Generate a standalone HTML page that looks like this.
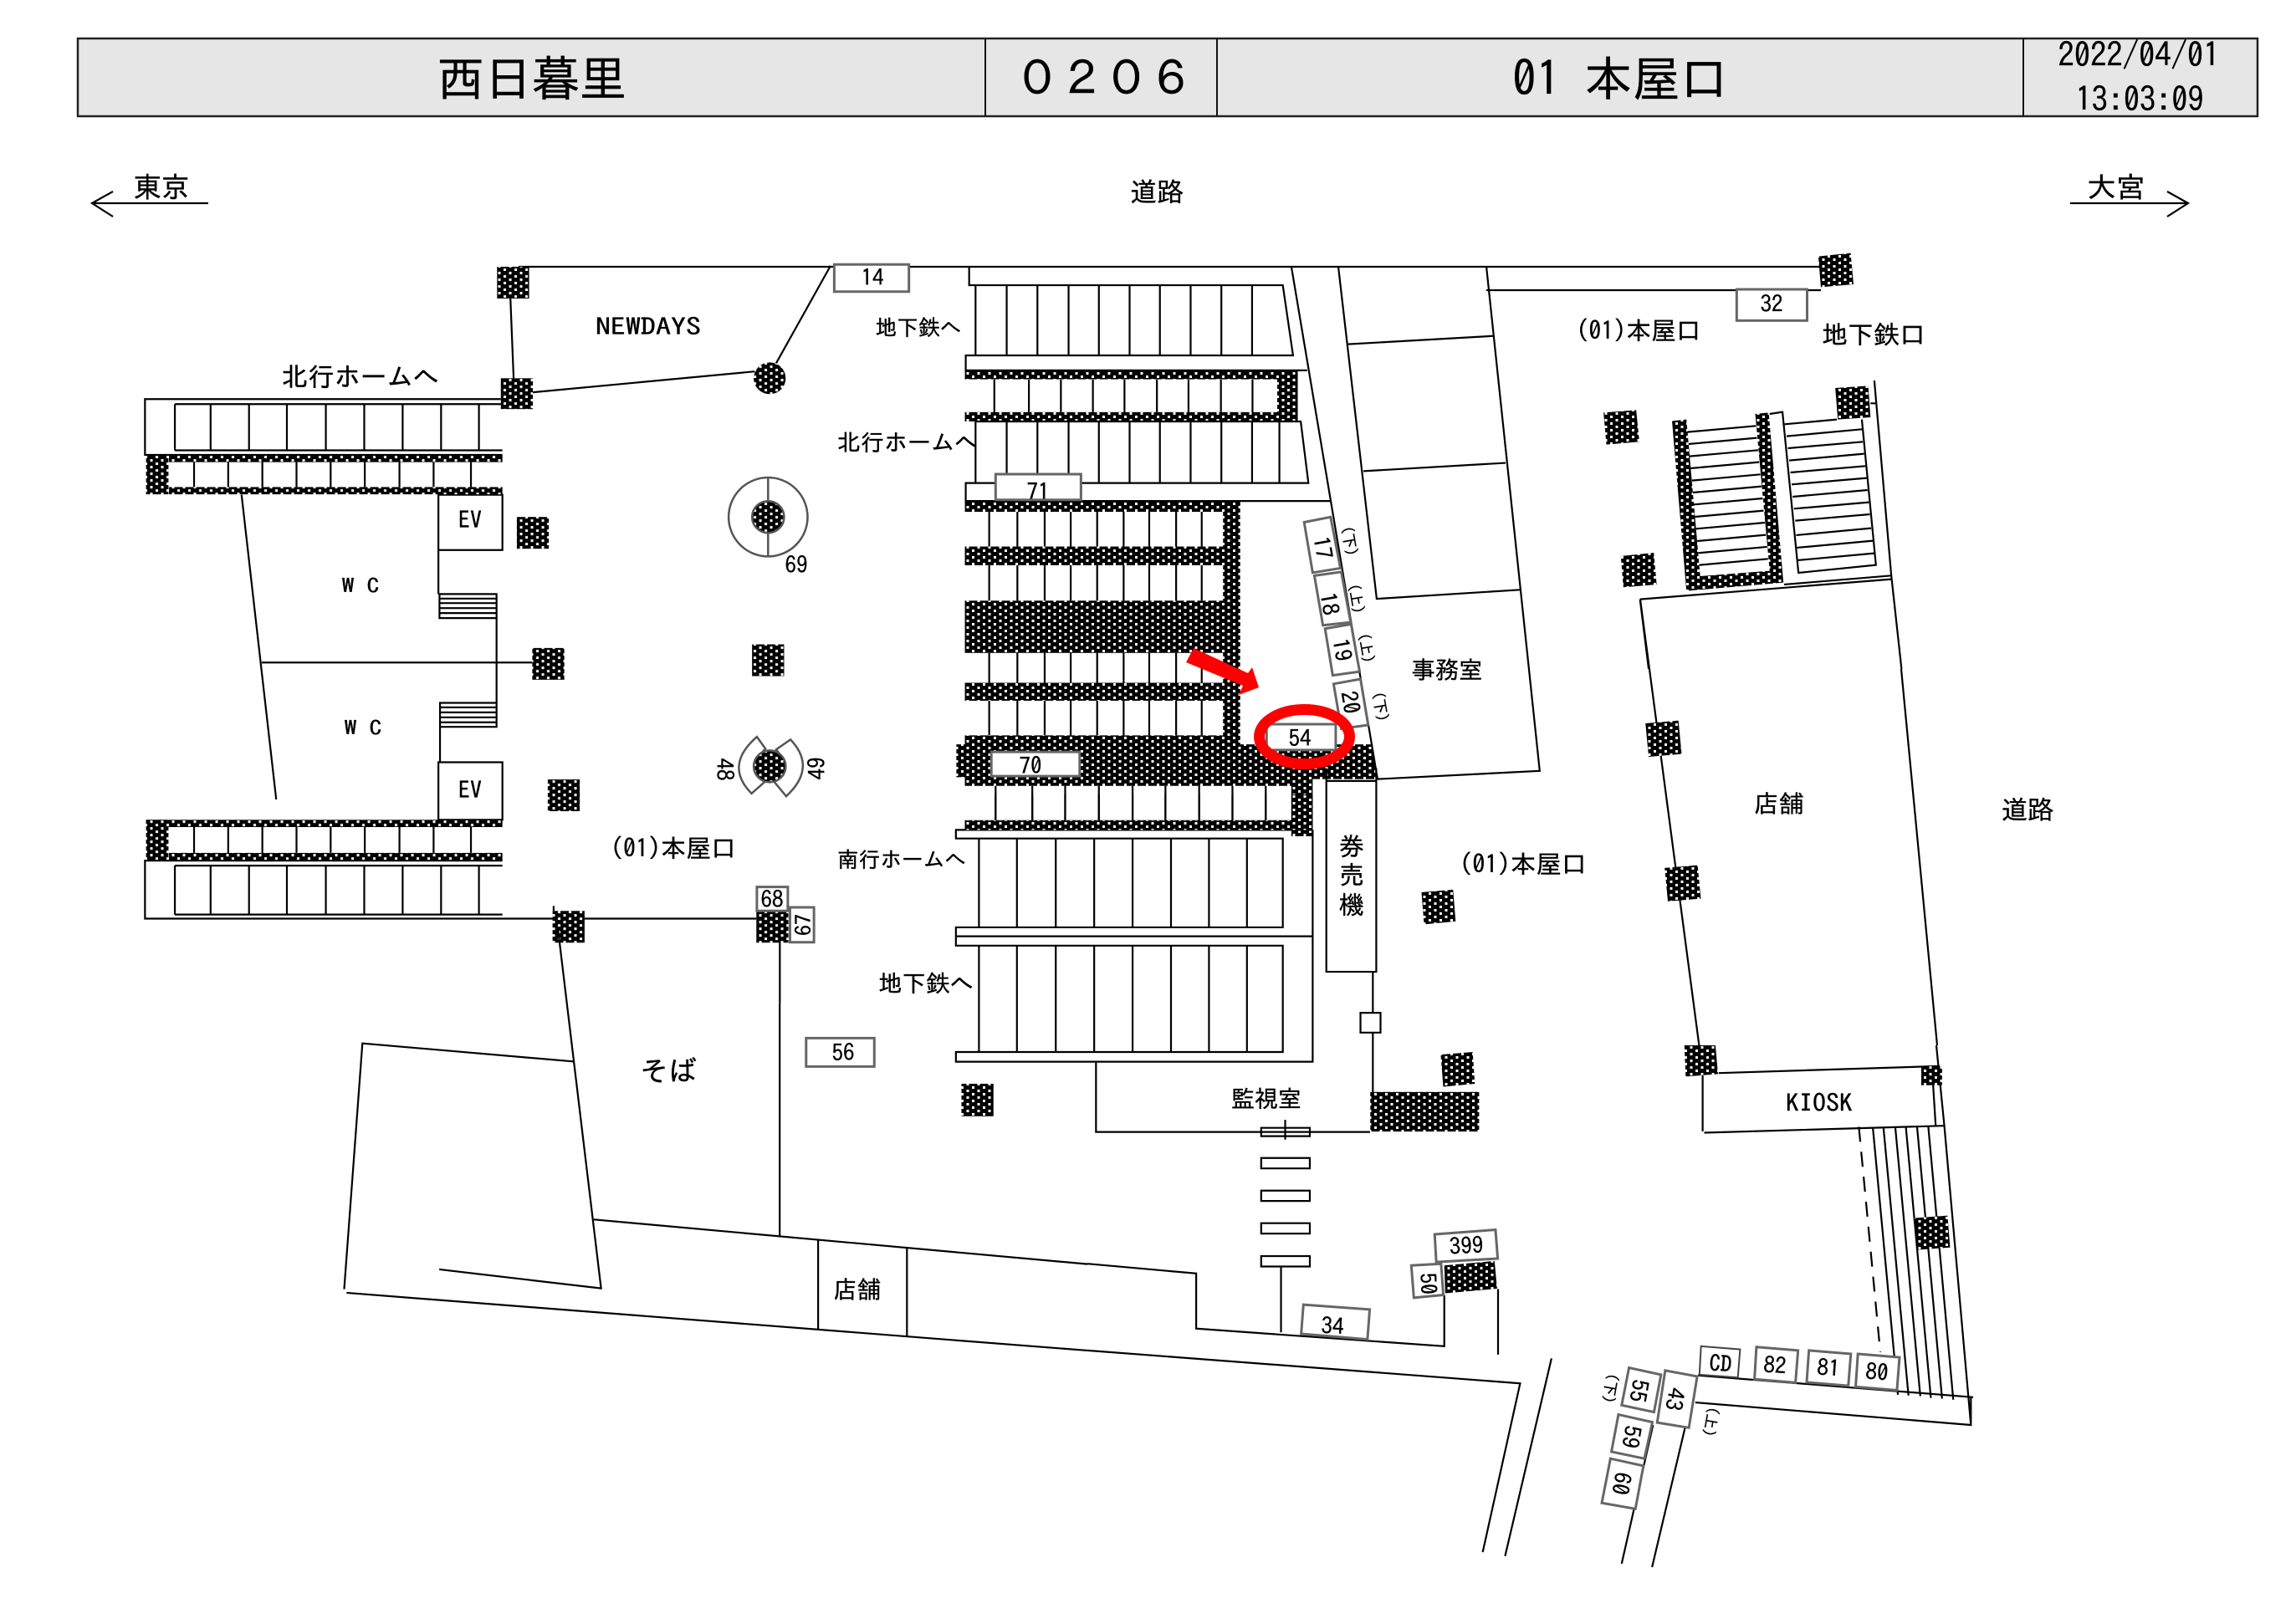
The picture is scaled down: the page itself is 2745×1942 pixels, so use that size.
<!DOCTYPE html>
<html lang="ja"><head><meta charset="utf-8"><title>西日暮里 0206</title>
<style>
html,body{margin:0;padding:0;background:#fff}
svg{display:block}
svg *{vector-effect:non-scaling-stroke}
text{font-family:"IPAGothic","Liberation Sans","Noto Sans CJK JP",sans-serif;fill:#000;stroke:#000;stroke-width:.35;text-anchor:middle;dominant-baseline:central}
.b{fill:#fff;stroke:#666;stroke-width:3}
.n{fill:none;stroke:#000;stroke-width:2.2}
.h{stroke:none}
</style></head><body>
<svg xmlns="http://www.w3.org/2000/svg" width="2745" height="1942" viewBox="0 0 2745 1942">
<defs>
<pattern id="p" patternUnits="userSpaceOnUse" width="13" height="8">
<rect width="13" height="8" fill="#000"/><rect x="1.5" y="1" width="3" height="3" fill="#fff"/><rect x="8" y="5" width="3" height="3" fill="#fff"/>
</pattern>
<pattern id="p1" href="#p" patternTransform="scale(1.568,1.845)"/>
<pattern id="p2" href="#p" patternTransform="scale(1.96,2.24)"/>
<pattern id="p4" href="#p" patternTransform="scale(2.613,3)"/>
<pattern id="p5" href="#p" patternTransform="scale(2.613,2.412)"/>
<pattern id="p7" href="#p" patternTransform="scale(1.742,3)"/>
</defs>
<rect width="2745" height="1942" fill="#fff"/>

<!-- header -->
<rect x="93" y="46" width="2606" height="93" fill="#e6e6e6" stroke="#222" stroke-width="2.5"/>
<g stroke="#111" stroke-width="2"><line x1="1178" y1="46" x2="1178" y2="139"/><line x1="1455" y1="46" x2="1455" y2="139"/><line x1="2419" y1="46" x2="2419" y2="139"/></g>
<text x="636" y="93" font-size="58" textLength="227" lengthAdjust="spacingAndGlyphs">西日暮里</text>
<text x="1320" y="93" font-size="56" textLength="216">０２０６</text>
<text x="1937" y="93" font-size="58" textLength="258" lengthAdjust="spacingAndGlyphs">01 本屋口</text>
<text x="2557" y="65" font-size="40" textLength="193" lengthAdjust="spacingAndGlyphs">2022/04/01</text>
<text x="2558" y="118" font-size="40" textLength="153" lengthAdjust="spacingAndGlyphs">13:03:09</text>

<!-- direction arrows -->
<g class="n"><path d="M249,243H110M135,229L110,243L135,259"/><path d="M2475,243H2616M2591,229L2616,243L2591,259"/></g>
<text x="193" y="224" font-size="34" textLength="67" lengthAdjust="spacingAndGlyphs">東京</text>
<text x="2530" y="224" font-size="34" textLength="70" lengthAdjust="spacingAndGlyphs">大宮</text>
<text x="1383" y="229" font-size="32" textLength="64" lengthAdjust="spacingAndGlyphs">道路</text>

<!-- long top lines and right wall in page coordinates -->
<g class="n">
<path d="M620,319H2177M1777,347H2177"/>
<path d="M2273,800L2316,1250"/>
<path d="M1961,717L2036,1285"/>
</g>

<!-- GROUP Z1 -->
<g transform="translate(100,300) scale(0.6378,0.5421)">
<g class="n">
<path d="M800,105L806,281M842,312L1258,266M1298,248L1400,33"/>
<path d="M782,327H115V450H785M171,440H785M171,338H782M171,338V440"/>
<path d="M238,338V440M310,338V440M381,338V440M454,338V440M526,338V440M598,338V440M670,338V440M741,338V440"/>
<path d="M207,466V521M271,466V521M335,466V521M399,466V521M463,466V521M527,466V521M592,466V521M656,466V521M726,466V521"/>
<path d="M207,1271V1328M271,1271V1328M335,1271V1328M399,1271V1328M463,1271V1328M527,1271V1328M592,1271V1328M656,1271V1328M726,1271V1328"/>
<path d="M785,1345H115V1473H1261M171,1356H785M171,1464H785M171,1356V1464"/>
<path d="M238,1356V1464M310,1356V1464M381,1356V1464M454,1356V1464M526,1356V1464M598,1356V1464M670,1356V1464M741,1356V1464"/>
<rect x="665" y="538" width="120" height="122"/><rect x="665" y="1128" width="120" height="127"/>
<path d="M665,660V757M774,810V997M668,1050V1128M296,538L361,1210M334,908H841"/>
<path d="M667,757H774V810H667ZM667,767H774M667,777H774M667,788H774M667,799H774"/>
<path d="M668,997H774V1050H668ZM668,1007H774M668,1018H774M668,1029H774M668,1040H774"/>
<path d="M881,1445V1456M1305,1525V1660"/>
</g>
<g class="h" fill="url(#p1)">
<rect x="775" y="35" width="60" height="70"/><rect x="782" y="281" width="60" height="68"/>
<rect x="812" y="587" width="60" height="70"/><rect x="841" y="876" width="60" height="70"/>
<rect x="1253" y="868" width="60" height="70"/><rect x="870" y="1166" width="60" height="70"/>
<rect x="879" y="1456" width="60" height="70"/><rect x="1261" y="1456" width="60" height="70"/>
<ellipse cx="1286" cy="281" rx="30" ry="35"/>
<rect x="160" y="452" width="625" height="14"/><rect x="117" y="452" width="42" height="85"/><rect x="160" y="521" width="625" height="16"/>
<rect x="117" y="1255" width="668" height="16"/><rect x="117" y="1255" width="42" height="90"/><rect x="160" y="1328" width="625" height="16"/>
</g>
<g fill="none" stroke="#555" stroke-width="2.5">
<ellipse cx="1283" cy="587" rx="74" ry="87"/><path d="M1283,500V675"/>
<path d="M1262,1072Q1200,1135 1252,1197L1276,1172Q1248,1135 1278,1098Z"/>
<path d="M1325,1078Q1375,1140 1317,1203L1295,1172Q1325,1135 1298,1100Z"/>
</g>
<ellipse cx="1283" cy="587" rx="30" ry="35" fill="url(#p1)" stroke="#555" stroke-width="2.5"/>
<ellipse cx="1286" cy="1137" rx="30" ry="35" fill="url(#p1)" stroke="#555" stroke-width="2.5"/>
<rect class="b" x="1407" y="30" width="140" height="60"/>
<rect class="b" x="1262" y="1403" width="58" height="53"/>
<rect class="b" x="1324" y="1448" width="45" height="77"/>
</g>

<!-- GROUP Z2 -->
<g transform="translate(1050,300) scale(0.5102,0.4464)">
<g class="h" fill="url(#p2)">
<rect x="203" y="322" width="780" height="22"/><rect x="935" y="322" width="48" height="135"/><rect x="203" y="432" width="780" height="25"/>
<rect x="203" y="672" width="645" height="27"/><rect x="808" y="672" width="40" height="650"/>
<rect x="203" y="792" width="645" height="50"/>
<rect x="203" y="937" width="645" height="140"/>
<rect x="203" y="1157" width="645" height="48"/>
<path d="M203,1298H848V1322H1158L1170,1415H1018V1568H968V1433H203V1410H183V1322H203Z"/>
<rect x="203" y="1525" width="815" height="25"/>
</g>
<g class="n">
<path d="M213,42V92H948L972,280H205V320H1005"/>
<path d="M228,92V280M301,92V280M373,92V280M446,92V280M517,92V280M589,92V280M660,92V280M732,92V280M804,92V280M876,92V280"/>
<path d="M272,345V432M353,345V432M428,345V432M503,345V432M577,345V432M653,345V432M727,345V432M803,345V432M877,345V432"/>
<path d="M228,457H990L1008,622H205V670H1060"/>
<path d="M228,457V622M301,457V622M373,457V622M446,457V622M517,457V622M589,457V622M660,457V622M732,457V622M804,457V622M876,457V622M940,457V622"/>
<path d="M968,42L1170,1415L1550,1393L1425,42M1078,42L1168,932L1503,908M1100,250L1440,228M1137,590L1470,568"/>
<path d="M260,699V792M326,699V792M390,699V792M451,699V792M513,699V792M575,699V792M635,699V792M698,699V792M758,699V792"/>
<path d="M260,842V937M326,842V937M390,842V937M451,842V937M513,842V937M575,842V937M635,842V937M698,842V937M758,842V937"/>
<path d="M260,1077V1157M326,1077V1157M390,1077V1157M451,1077V1157M513,1077V1157M575,1077V1157M635,1077V1157M698,1077V1157M758,1077V1157"/>
<path d="M260,1205V1298M326,1205V1298M390,1205V1298M451,1205V1298M513,1205V1298M575,1205V1298M635,1205V1298M698,1205V1298M758,1205V1298"/>
<path d="M275,1433V1525M361,1433V1525M438,1433V1525M517,1433V1525M596,1433V1525M673,1433V1525M752,1433V1525M830,1433V1525M908,1433V1525"/>
<path d="M1050,1420H1167"/>
</g>
<g class="b">
<rect x="275" y="598" width="200" height="69"/>
<rect x="265" y="1342" width="207" height="65"/>
<rect x="910" y="1268" width="162" height="69"/>
<polygon points="998,727 1060,713 1083,850 1018,862"/>
<polygon points="1022,870 1085,860 1107,995 1042,1003"/>
<polygon points="1047,1012 1108,1000 1128,1127 1065,1137"/>
<polygon points="1067,1160 1130,1147 1148,1270 1085,1280"/>
</g>
</g>

<!-- GROUP Z3 -->
<g transform="translate(1050,950) scale(0.5102,0.4464)">
<g class="n">
<path d="M1018,95H182V118H948V356H182V380H1018M182,380V405H948V690H182V716H1018V95"/>
<path d="M236,118V356M325,118V356M416,118V356M506,118V356M596,118V356M686,118V356M775,118V356M864,118V356"/>
<path d="M236,405V690M325,405V690M416,405V690M506,405V690M596,405V690M686,405V690M775,405V690M864,405V690"/>
<path d="M275,0V70M361,0V70M438,0V70M517,0V70M596,0V70M673,0V70M752,0V70M830,0V70M908,0V70"/>
<path d="M1050,-70V475H1167V-70M1159,475V585M1159,638V797"/>
<rect x="1130" y="585" width="47" height="53"/>
</g>
<g class="h" fill="url(#p2)">
<rect x="203" y="70" width="815" height="25"/><rect x="968" y="0" width="50" height="75"/>
<rect x="1153" y="797" width="255" height="106"/>
<rect x="195" y="775" width="75" height="87"/>
<polygon points="1273,262 1347,255 1353,340 1279,348"/>
<polygon points="1318,697 1393,690 1398,775 1324,783"/>
</g>
</g>

<!-- GROUP Z4 -->
<g transform="translate(1800,300) scale(0.3827,0.3333)">
<g class="n">
<path d="M568,650L782,628M571,693L785,671M575,737L789,715M578,780L792,758M582,824L796,802M585,867L800,845M588,910L803,888M592,954L806,932M595,997L810,975M599,1041L813,1019M602,1084L817,1062M605,1127L820,1105"/>
<path d="M825,585L865,578L915,1155L1157,1127L1113,605M872,622L1035,605"/>
<path d="M878,665L1113,640M882,708L1116,685M886,752L1120,728M890,795L1124,772M894,838L1128,815M897,882L1131,858M901,925L1135,902M905,968L1138,945M908,1020L1142,995M910,1065L1148,1040M912,1110L1152,1085"/>
<path d="M1152,465L1205,1165L1237,1500M1140,547H1155M870,1197L1205,1165M420,1250L1205,1178M420,1250L447,1500"/>
</g>
<g class="h" fill="url(#p4)">
<polygon points="977,20 1078,8 1087,120 985,130"/>
<polygon points="1030,492 1133,484 1140,597 1038,605"/>
<polygon points="306,580 408,571 418,685 315,695"/>
<polygon points="360,1095 463,1083 472,1197 368,1207"/>
<polygon points="520,610 565,605 608,1167 825,1148 780,585 822,580 868,1190 565,1220"/>
<polygon points="437,1695 540,1685 550,1805 447,1815"/>
<polygon points="497,2214 600,2204 610,2324 507,2334"/>
</g>
<rect class="b" x="722" y="138" width="220" height="112"/>
</g>

<!-- GROUP Z5 right lower -->
<g transform="translate(1850,1250) scale(0.3827,0.4146)">
<g class="n">
<path d="M1215,0L1240,232L1323,1095L462,1030M1323,1095V1015M470,952L1330,1015"/>
<path d="M535,80L1225,60M485,85V248M490,252L1240,232M1205,115L1213,232"/>
<path d="M1017,240L1095,1008M1050,238L1128,1010M1087,238L1165,1012M1120,237L1198,1017M1155,236L1233,1019M1190,235L1268,1022"/>
<path d="M973,235L1040,885" stroke-dasharray="18 12"/>
<path d="M430,1103L327,1505M330,1095L232,1495"/>
</g>
<g class="h" fill="url(#p5)">
<rect x="1168" y="60" width="65" height="55"/>
<polygon points="428,0 525,0 533,83 432,90"/>
<polygon points="1148,498 1250,491 1258,583 1155,590"/>
</g>
<g class="b">
<polygon points="480,868 602,877 595,958 475,950" style="stroke-width:2;stroke:#444"/>
<polygon points="653,870 783,880 775,973 647,963"/>
<polygon points="817,880 948,890 940,982 810,972"/>
<polygon points="970,890 1100,900 1092,995 963,985"/>
<polygon points="255,930 355,950 333,1058 232,1038"/>
<polygon points="368,938 468,955 442,1103 343,1088"/>
<polygon points="222,1065 328,1087 303,1192 200,1172"/>
<polygon points="197,1192 300,1213 275,1337 170,1320"/>
</g>
</g>

<!-- GROUP Z7 -->
<g transform="translate(400,1200) scale(0.5741,0.3333)">
<g class="n">
<path d="M497,208L58,143L20,1025M218,954L555,1022L465,-270M25,1038L1568,1245M540,775L1568,935"/>
<path d="M927,0V835M1007,848V1168M1192,875V1193"/>
</g>
<rect class="b" x="982" y="124" width="142" height="102"/>
</g>

<!-- GROUP Z8 -->
<g transform="translate(1300,1250) scale(0.3827,0.4146)">
<g class="n">
<path d="M0,880L1352,975L1235,1462M1450,903L1305,1473M1283,703V892"/>
<path d="M0,630L340,658V817L1115,868V720M605,638V828"/>
<path d="M27,50V250H883M618,215V272"/>
<rect x="543" y="238" width="152" height="24"/><rect x="543" y="325" width="152" height="30"/>
<rect x="543" y="419" width="152" height="30"/><rect x="543" y="513" width="152" height="30"/>
<rect x="543" y="608" width="152" height="30"/>
</g>
<polygon points="1115,635 1272,622 1280,702 1118,715" fill="url(#p5)" stroke="none"/>
<g class="b">
<polygon points="1085,545 1275,532 1282,615 1090,625"/>
<polygon points="1012,635 1105,630 1112,720 1020,728"/>
<polygon points="675,748 882,762 875,848 668,832"/>
</g>
</g>

<!-- labels -->
<text x="775" y="391" font-size="28" textLength="126" lengthAdjust="spacingAndGlyphs">NEWDAYS</text>
<text x="431" y="450" font-size="32" textLength="188" lengthAdjust="spacingAndGlyphs">北行ホームへ</text>
<text x="1098" y="392" font-size="26" textLength="103" lengthAdjust="spacingAndGlyphs">地下鉄へ</text>
<text x="1085" y="529" font-size="28" textLength="168" lengthAdjust="spacingAndGlyphs">北行ホームへ</text>
<text x="1078" y="1028" font-size="26" textLength="154" lengthAdjust="spacingAndGlyphs">南行ホームへ</text>
<text x="1107" y="1176" font-size="28" textLength="114" lengthAdjust="spacingAndGlyphs">地下鉄へ</text>
<text x="952" y="676" font-size="27">69</text>
<text x="431" y="700" font-size="24" textLength="45" lengthAdjust="spacingAndGlyphs">W C</text>
<text x="434" y="870" font-size="24" textLength="45" lengthAdjust="spacingAndGlyphs">W C</text>
<text x="562" y="622" font-size="28">EV</text>
<text x="562" y="945" font-size="28">EV</text>
<text x="805" y="1014" font-size="30" textLength="150" lengthAdjust="spacingAndGlyphs">(01)本屋口</text>
<text x="1821" y="1033" font-size="30" textLength="152" lengthAdjust="spacingAndGlyphs">(01)本屋口</text>
<text x="1959" y="395" font-size="30" textLength="149" lengthAdjust="spacingAndGlyphs">(01)本屋口</text>
<text x="2240" y="400" font-size="30" textLength="124" lengthAdjust="spacingAndGlyphs">地下鉄口</text>
<text x="799" y="1281" font-size="34" textLength="68" lengthAdjust="spacingAndGlyphs">そば</text>
<text x="1025" y="1542" font-size="29" textLength="57" lengthAdjust="spacingAndGlyphs">店舗</text>
<text x="1514" y="1314" font-size="28" textLength="84" lengthAdjust="spacingAndGlyphs">監視室</text>
<text x="1616" y="1012" font-size="30">券</text><text x="1616" y="1046" font-size="30">売</text><text x="1616" y="1082" font-size="30">機</text>
<text x="1730" y="801" font-size="29" textLength="85" lengthAdjust="spacingAndGlyphs">事務室</text>
<text x="2127" y="961" font-size="29" textLength="60" lengthAdjust="spacingAndGlyphs">店舗</text>
<text x="2424" y="968" font-size="31" textLength="63" lengthAdjust="spacingAndGlyphs">道路</text>
<text x="2175" y="1319" font-size="29" textLength="80" lengthAdjust="spacingAndGlyphs">KIOSK</text>
<text x="1043" y="332" font-size="27">14</text>
<text x="2118" y="364" font-size="27">32</text>
<text x="1241" y="588" font-size="27">71</text>
<text x="1232" y="916" font-size="27">70</text>
<text x="1554" y="883" font-size="27">54</text>
<text x="1008" y="1259" font-size="27">56</text>
<text x="923" y="1076" font-size="27">68</text>
<text x="961" y="1106" font-size="26" transform="rotate(-90 961 1106)">67</text>
<text x="866" y="920" font-size="27" transform="rotate(90 866 920)">48</text>
<text x="977" y="919" font-size="27" transform="rotate(-90 977 919)">49</text>
<text x="1593" y="1586" font-size="27" transform="rotate(3 1593 1586)">34</text>
<text x="1753" y="1490" font-size="27" transform="rotate(-3 1753 1490)">399</text>
<text x="1707" y="1535" font-size="26" transform="rotate(87 1707 1535)">50</text>
<text x="1581" y="655" font-size="27" transform="rotate(80 1581 655)">17</text>
<text x="1589" y="722" font-size="27" transform="rotate(80 1589 722)">18</text>
<text x="1604" y="777" font-size="27" transform="rotate(80 1604 777)">19</text>
<text x="1614" y="840" font-size="27" transform="rotate(80 1614 840)">20</text>
<text x="1613" y="647" font-size="18" transform="rotate(80 1613 647)">(下)</text>
<text x="1621" y="716" font-size="18" transform="rotate(80 1621 716)">(上)</text>
<text x="1633" y="775" font-size="18" transform="rotate(80 1633 775)">(上)</text>
<text x="1650" y="845" font-size="18" transform="rotate(80 1650 845)">(下)</text>
<text x="2057" y="1631" font-size="27" transform="rotate(4 2057 1631)">CD</text>
<text x="2122" y="1633" font-size="27" transform="rotate(4 2122 1633)">82</text>
<text x="2186" y="1636" font-size="27" transform="rotate(4 2186 1636)">81</text>
<text x="2244" y="1641" font-size="27" transform="rotate(4 2244 1641)">80</text>
<text x="1959" y="1663" font-size="27" transform="rotate(100 1959 1663)">55</text>
<text x="2002" y="1673" font-size="27" transform="rotate(100 2002 1673)">43</text>
<text x="1950" y="1718" font-size="27" transform="rotate(100 1950 1718)">59</text>
<text x="1938" y="1774" font-size="27" transform="rotate(100 1938 1774)">60</text>
<text x="1925" y="1660" font-size="18" transform="rotate(100 1925 1660)">(下)</text>
<text x="2045" y="1700" font-size="18" transform="rotate(100 2045 1700)">(上)</text>

<!-- red highlight -->
<polygon points="1427,775 1492,805 1497,798 1505,822 1481,831 1486,820 1418,792" fill="#ff0000"/>
<ellipse cx="1559.5" cy="881" rx="54" ry="32.5" fill="none" stroke="#ff0000" stroke-width="13"/>
</svg>
</body></html>
